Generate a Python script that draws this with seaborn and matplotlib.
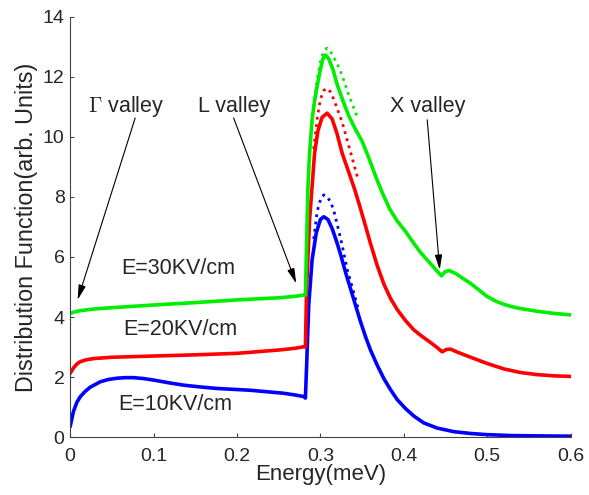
import numpy as np
import seaborn as sns
import matplotlib.pyplot as plt

# Energy (meV) and distribution values
e_10 = [0.0, 0.004, 0.008, 0.012, 0.018, 0.024, 0.036, 0.046, 0.056, 0.066, 0.076, 0.088, 0.1,
        0.118, 0.136, 0.156, 0.176, 0.196, 0.216, 0.236, 0.256, 0.27, 0.28,
        0.282, 0.2835, 0.286, 0.290, 0.295, 0.300, 0.304, 0.309, 0.314, 0.319, 0.324,
        0.330, 0.336, 0.342, 0.348, 0.354, 0.36, 0.368, 0.376, 0.384, 0.392, 0.402,
        0.412, 0.424, 0.44, 0.46, 0.48, 0.5, 0.53, 0.56, 0.6]
f_10 = [0.34, 0.85, 1.15, 1.34, 1.52, 1.66, 1.84, 1.92, 1.96, 1.98, 1.98, 1.95, 1.9,
        1.81, 1.73, 1.67, 1.62, 1.59, 1.56, 1.51, 1.46, 1.4, 1.35,
        1.3, 2.4, 4.4, 5.9, 6.8, 7.25, 7.34, 7.25, 6.95, 6.55, 6.1,
        5.5, 4.95, 4.4, 3.85, 3.35, 2.9, 2.4, 1.95, 1.58, 1.25, 0.95,
        0.7, 0.47, 0.3, 0.18, 0.12, 0.08, 0.05, 0.04, 0.03]

e_20 = [0.0, 0.004, 0.008, 0.012, 0.02, 0.03, 0.05, 0.1, 0.15, 0.2, 0.25, 0.27, 0.28,
        0.282, 0.2835, 0.287, 0.290, 0.293, 0.297, 0.302, 0.308, 0.314, 0.320, 0.326,
        0.333, 0.340, 0.346, 0.352, 0.36, 0.368, 0.376, 0.384, 0.392, 0.402, 0.412,
        0.422, 0.432, 0.44, 0.446, 0.451, 0.456, 0.465, 0.48, 0.5, 0.52, 0.54, 0.56,
        0.58, 0.6]
f_20 = [2.12, 2.3, 2.43, 2.51, 2.58, 2.62, 2.66, 2.7, 2.74, 2.79, 2.9, 2.96, 3.01,
        3.0, 5.0, 7.23, 8.34, 9.46, 10.2, 10.65, 10.79, 10.6, 10.1, 9.46,
        8.9, 8.34, 7.8, 7.23, 6.45, 5.72, 5.1, 4.62, 4.25, 3.88, 3.57,
        3.35, 3.15, 2.98, 2.84, 2.92, 2.93, 2.82, 2.66, 2.45, 2.27, 2.15, 2.08,
        2.04, 2.02]

e_30 = [0.0, 0.005, 0.01, 0.02, 0.03, 0.05, 0.1, 0.15, 0.2, 0.25, 0.27, 0.28,
        0.282, 0.2835, 0.285, 0.287, 0.290, 0.293, 0.296, 0.300, 0.303, 0.306, 0.310,
        0.315, 0.320, 0.327, 0.334, 0.342, 0.35, 0.358, 0.366, 0.374, 0.383, 0.392,
        0.402, 0.412, 0.42, 0.428, 0.436, 0.445, 0.449, 0.454, 0.462, 0.47, 0.48,
        0.49, 0.5, 0.51, 0.52, 0.53, 0.54, 0.56, 0.58, 0.6]
f_30 = [4.12, 4.17, 4.2, 4.24, 4.27, 4.31, 4.4, 4.48, 4.57, 4.64, 4.69, 4.73,
        4.73, 6.5, 8.3, 9.46, 10.57, 11.2, 11.68, 12.25, 12.6, 12.73, 12.6,
        12.25, 11.75, 11.2, 10.7, 10.25, 9.85, 9.3, 8.7, 8.15, 7.6, 7.2,
        6.85, 6.45, 6.15, 5.9, 5.65, 5.37, 5.5, 5.55, 5.45, 5.3, 5.12,
        4.9, 4.68, 4.53, 4.42, 4.34, 4.28, 4.19, 4.12, 4.07]

# Noisy (Monte Carlo) counterparts around the peak
e_mc = [0.292, 0.296, 0.300, 0.304, 0.308, 0.312, 0.316, 0.320, 0.326, 0.332, 0.338, 0.345]
f_mc_10 = [6.6, 7.5, 7.9, 8.07, 8.0, 7.85, 7.55, 7.1, 6.4, 5.6, 5.0, 4.3]
f_mc_20 = [9.6, 10.6, 11.25, 11.55, 11.62, 11.5, 11.25, 10.95, 10.5, 9.9, 9.3, 8.6]
f_mc_30 = [11.0, 11.9, 12.5, 12.85, 12.96, 12.85, 12.65, 12.45, 12.05, 11.55, 11.1, 10.6]

fields = ["E=10KV/cm", "E=20KV/cm", "E=30KV/cm"]
colors = ["#0000ff", "#ff0000", "#00ee00"]

sns.set_style("ticks")
plt.rcParams['font.family'] = ['Liberation Sans', 'DejaVu Sans']
plt.rcParams['mathtext.fontset'] = 'cm'
plt.rcParams['xtick.direction'] = 'in'
plt.rcParams['ytick.direction'] = 'in'

fig = plt.figure(figsize=(5.89, 4.95), dpi=100)
ax = fig.add_axes([0.119, 0.117, 0.85, 0.849])

solid = [(e_10, f_10), (e_20, f_20), (e_30, f_30)]
noisy = [f_mc_10, f_mc_20, f_mc_30]
for (e, f), mc, c in zip(solid, noisy, colors):
    sns.lineplot(x=e_mc, y=mc, ax=ax, color=c, lw=2.0, linestyle=':', sort=False)
    sns.lineplot(x=e, y=f, ax=ax, color=c, lw=2.6, sort=False)

ax.set_xlim(0, 0.6)
ax.set_ylim(0, 14)
ax.set_xticks(np.arange(0, 0.61, 0.1))
ax.set_xticklabels(["0", "0.1", "0.2", "0.3", "0.4", "0.5", "0.6"])
ax.set_yticks(range(0, 15, 2))
ax.tick_params(labelsize=14, length=3, color='#444444')
ax.tick_params(axis='x', pad=8)
ax.tick_params(axis='y', pad=4)
for s in ['left', 'bottom']:
    ax.spines[s].set_color('#444444')
ax.set_xlabel("Energy(meV)", fontsize=16, labelpad=-1)
ax.set_ylabel("Distribution Function(arb. Units)", fontsize=16.8, labelpad=3)
sns.despine(ax=ax)

# field labels
ax.text(0.126, 1.07, fields[0], fontsize=15.5, ha='center', va='center')
ax.text(0.132, 3.57, fields[1], fontsize=15.5, ha='center', va='center')
ax.text(0.13, 5.63, fields[2], fontsize=15.5, ha='center', va='center')

# valley annotations
arrow = dict(arrowstyle='-|>,head_length=0.9,head_width=0.22', color='black', lw=0.8,
             shrinkA=0, shrinkB=0)
ax.text(0.067, 11.0, r"$\Gamma$ valley", fontsize=15.5, ha='center', va='center')
ax.text(0.197, 11.0, "L valley", fontsize=15.5, ha='center', va='center')
ax.text(0.428, 11.0, "X valley", fontsize=15.5, ha='center', va='center')
ax.annotate("", xy=(0.009, 4.57), xytext=(0.078, 10.63), arrowprops=arrow)
ax.annotate("", xy=(0.271, 5.12), xytext=(0.196, 10.63), arrowprops=arrow)
ax.annotate("", xy=(0.443, 5.57), xytext=(0.428, 10.57), arrowprops=arrow)

plt.savefig("out.png", dpi=100)
